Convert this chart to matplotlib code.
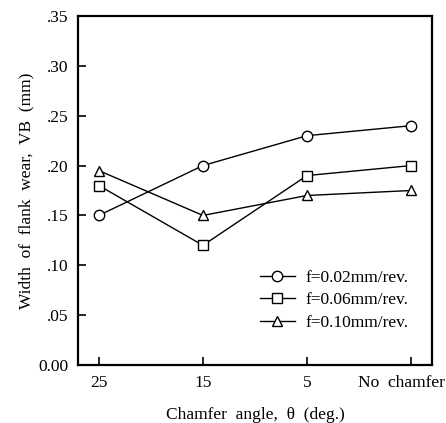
import matplotlib
matplotlib.use("Agg")
import matplotlib.pyplot as plt
from matplotlib.transforms import ScaledTranslation

# veriler
kategoriler = ["25", "15", "5", "No  chamfer"]
f002 = [0.150, 0.200, 0.230, 0.240]
f006 = [0.180, 0.120, 0.190, 0.200]
f010 = [0.195, 0.150, 0.170, 0.175]
yticks = [0.00, 0.05, 0.10, 0.15, 0.20, 0.25, 0.30, 0.35]
ylabels = ["0.00", ".05", ".10", ".15", ".20", ".25", ".30", ".35"]

plt.rcParams["font.family"] = ["Liberation Serif", "DejaVu Serif"]
plt.rcParams["font.size"] = 12

fig = plt.figure(figsize=(4.46, 4.23), dpi=100)
ax = fig.add_axes([78/446, 1-365/423, (432-78)/446, (365-16)/423])

x = list(range(len(kategoriler)))
ortak = dict(color="black", lw=1.0, ms=7.5, mfc="white", mew=1.0)
ax.plot(x, f002, marker="o", label="f=0.02mm/rev.", **ortak)
ax.plot(x, f006, marker="s", label="f=0.06mm/rev.", **ortak)
ax.plot(x, f010, marker="^", label="f=0.10mm/rev.", **ortak)

ax.set_xlim(-0.2, 3.2)
ax.set_ylim(0, 0.35)
ax.set_xticks(x)
ax.set_xticklabels(kategoriler)
ax.set_yticks(yticks)
ax.set_yticklabels(ylabels)
ax.tick_params(direction="in", length=6, width=1.2, pad=7, labelsize=12.5)
for s in ax.spines.values():
    s.set_linewidth(1.6)

# "No chamfer" sayfa kenarina sigsin diye biraz sola kaydir
son = ax.get_xticklabels()[-1]
son.set_transform(son.get_transform() + ScaledTranslation(-10/100, 0, fig.dpi_scale_trans))

ax.set_xlabel("Chamfer  angle,  \u03b8  (deg.)", fontsize=12.5, labelpad=12)
ax.set_ylabel("Width  of  flank  wear,  VB  (mm)", fontsize=12.5, labelpad=3)

ax.legend(loc="upper left", bbox_to_anchor=((260-78)/354, 1-(270-16)/349),
          frameon=False, handlelength=2.0, handletextpad=0.6,
          labelspacing=0.35, fontsize=12.5, borderpad=0, borderaxespad=0)

fig.savefig("out.png", dpi=100)
